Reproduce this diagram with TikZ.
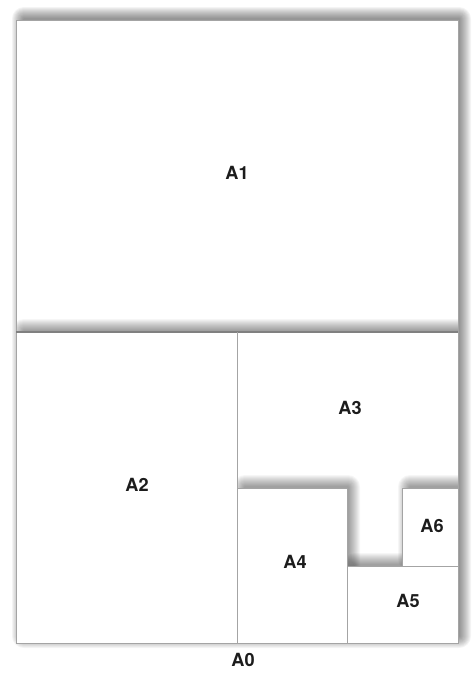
\documentclass[tikz,border=0pt]{standalone}
\usepackage{fontspec}
\setsansfont{TeX Gyre Heros}
\usetikzlibrary{positioning}

\definecolor{edgegray}{HTML}{A4A4A4}
\definecolor{inkgray}{HTML}{1C1C1C}

% soft shadow of a sheet, thrown up and to the right
\newcommand{\sheetshadow}[5][0.045]{%
  \foreach \r in {1,...,12}{
    \fill[black, opacity=#1, rounded corners=\r*0.85pt]
      (#2+8-\r,#3-1-\r) rectangle (#4+1+\r,#5-7+\r);
  }%
}

\begin{document}
\begin{tikzpicture}[x=0.03cm, y=-0.03cm,
    edge/.style={draw=edgegray, line width=0.6pt},
    papername/.style={font=\sffamily\bfseries\fontsize{15.5}{18}\selectfont, text=inkgray}]
  \useasboundingbox (0,0) rectangle (475,687);

  % the whole A0 sheet
  \sheetshadow{16}{20}{458}{643}
  \fill[white] (16,20) rectangle (458,643);

  \begin{scope}
    \clip (16,20) rectangle (458,643);
    % lower half lies on top of A1
    \sheetshadow[0.035]{16}{332}{458}{643}
    \fill[white] (16,332) rectangle (458,643);
    % small sheets lie on top of A3
    \clip (237,332) rectangle (458,643);
    \sheetshadow[0.035]{237}{488}{347}{643}
    \sheetshadow[0.035]{402}{488}{458}{566}
    \sheetshadow[0.035]{347}{566}{458}{643}
    \fill[white] (237,488) rectangle (347,643);
    \fill[white] (402,488) rectangle (458,566);
    \fill[white] (347,566) rectangle (458,643);
  \end{scope}

  % borders
  \draw[edge] (16,20) rectangle (458,643);
  \draw[edge, draw=gray, line width=0.9pt] (16,332) -- (458,332);
  \draw[edge] (237,332) -- (237,643);
  \draw[edge] (237,488) -- (347,488) -- (347,643);
  \draw[edge] (402,488) rectangle (458,566);
  \draw[edge] (347,566) -- (458,566);

  % names
  \node[papername] (A1) at (237,173) {A1};
  \node[papername] (A2) at (137,485) {A2};
  \node[papername] (A3) at (350,408) {A3};
  \node[papername] (A4) at (295,562) {A4};
  \node[papername] (A5) at (408,601) {A5};
  \node[papername] (A6) at (432,526) {A6};
  \node[papername] (A0) at (243,660) {A0};
\end{tikzpicture}
\end{document}
